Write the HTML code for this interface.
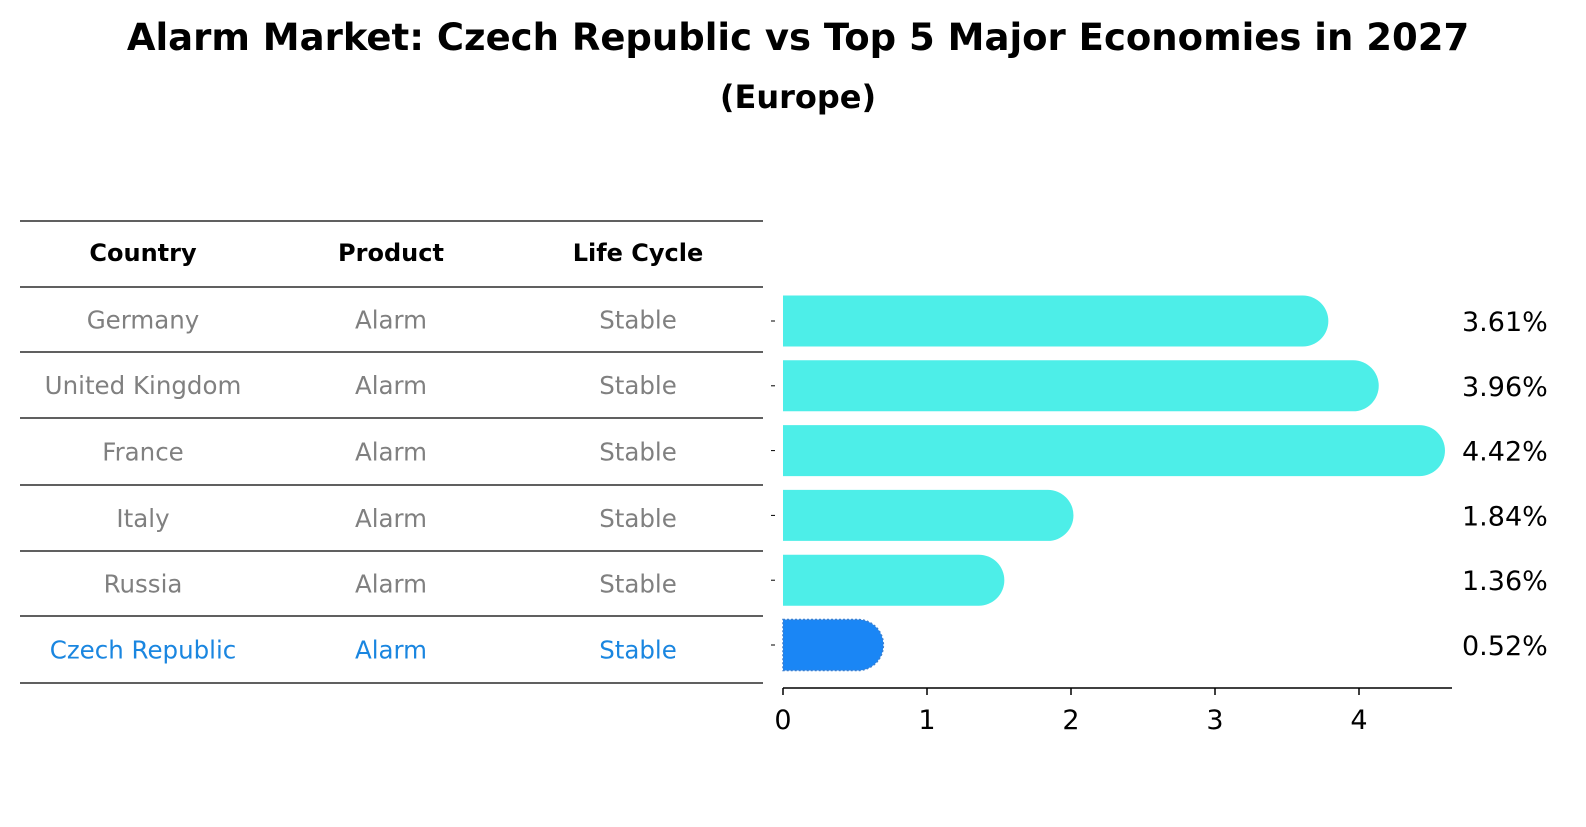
<!DOCTYPE html>
<html><head><meta charset="utf-8"><style>
body{margin:0;width:1586px;height:823px;background:#fff;font-family:"DejaVu Sans","Liberation Sans",sans-serif;overflow:hidden}
</style></head><body>
<svg width="1586" height="823" xmlns="http://www.w3.org/2000/svg">
<text x="798" y="50" text-anchor="middle" font-size="37" font-weight="bold">Alarm Market: Czech Republic vs Top 5 Major Economies in 2027</text>
<text x="798" y="108" text-anchor="middle" font-size="32" font-weight="bold">(Europe)</text>
<g id="table"></g>
<g id="bars"></g>
</svg>
<script>
const countries=["Germany","United Kingdom","France","Italy","Russia","Czech Republic"];
const products=["Alarm","Alarm","Alarm","Alarm","Alarm","Alarm"];
const cycles=["Stable","Stable","Stable","Stable","Stable","Stable"];
const values=[3.61,3.96,4.42,1.84,1.36,0.52];
const ticks=[0,1,2,3,4];
const NS="http://www.w3.org/2000/svg";
function mk(t,a,p){const e=document.createElementNS(NS,t);for(const k in a)e.setAttribute(k,a[k]);p.appendChild(e);return e;}
const tbl=document.getElementById('table'),bars=document.getElementById('bars');
const lineYs=[221,287,352,418,485,551,616,683];
lineYs.forEach((y,i)=>{const l=mk('line',{x1:20,x2:763,y1:y,y2:y,stroke:'#000','stroke-width':1.2},tbl);

});
const cx=[143,391,638];
["Country","Product","Life Cycle"].forEach((h,i)=>{const t=mk('text',{x:cx[i],y:261,'text-anchor':'middle','font-size':24,'font-weight':'bold'},tbl);t.textContent=h;

});
const rowY=i=>(lineYs[i+1]+lineYs[i+2])/2;
countries.forEach((c,i)=>{const col=i==5?'#1a86e0':'#808080';
[c,products[i],cycles[i]].forEach((v,j)=>{const t=mk('text',{x:cx[j],y:rowY(i)+9,'text-anchor':'middle','font-size':24.5,fill:col},tbl);t.textContent=v;

});});
const x0=783,sc=144,xs=v=>x0+v*sc;
const barCY=i=>321+i*64.8,bh=51;
values.forEach((v,i)=>{const y=barCY(i)-bh/2,r=bh/2,xe=xs(v);
const col=i==5?'#1a86f5':'#4deee8';
const p=mk('path',{d:`M${x0} ${y} H${xe} A${r} ${r} 0 0 1 ${xe} ${y+bh} H${x0} Z`,fill:col},bars);
if(i==5){p.setAttribute('stroke','#3a7fd0');p.setAttribute('stroke-dasharray','2 2');p.setAttribute('stroke-width','1.5');}


const t=mk('text',{x:1462,y:barCY(i)+10,'font-size':27,fill:'#000'},bars);t.textContent=v.toFixed(2)+'%';


const yt=mk('line',{x1:x0-12,x2:x0-8,y1:barCY(i),y2:barCY(i),stroke:'#000','stroke-width':1},bars);

});
const ax=mk('line',{x1:x0,x2:1452,y1:688,y2:688,stroke:'#000','stroke-width':1.5},bars);


ticks.forEach(v=>{const l=mk('line',{x1:xs(v),x2:xs(v),y1:688,y2:695,stroke:'#000','stroke-width':1.5},bars);


const t=mk('text',{x:xs(v),y:729,'text-anchor':'middle','font-size':27},bars);t.textContent=v;

});
</script>
</body></html>
